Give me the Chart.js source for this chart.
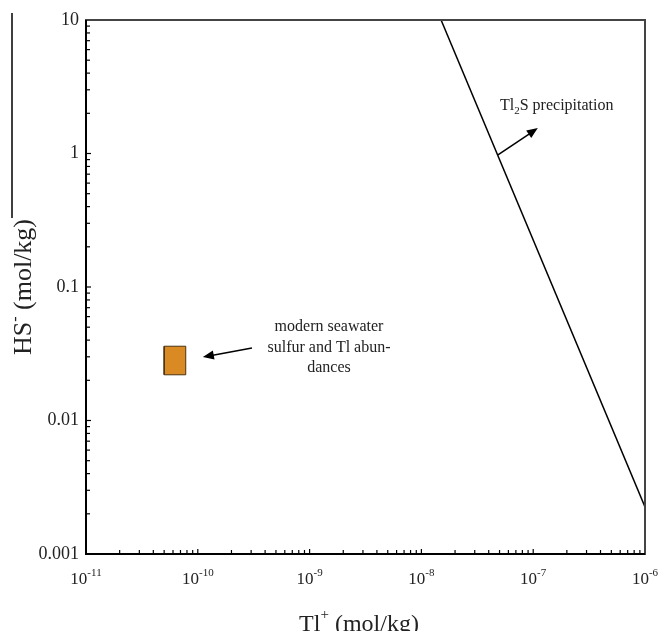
<!DOCTYPE html>
<html>
<head>
<meta charset="utf-8">
<script src="https://cdn.jsdelivr.net/npm/chart.js@4/dist/chart.umd.min.js"></script>
<style>
  body { margin: 0; background: #fff; }
  canvas { display: block; }
</style>
</head>
<body>
<canvas id="tlChart" width="658" height="631"></canvas>
<script>
// axis ticks
const xTickExponents = [-11, -10, -9, -8, -7, -6];
const yTickValues = [0.001, 0.01, 0.1, 1, 10];
const yTickLabels = ['0.001', '0.01', '0.1', '1', '10'];

// Tl2S saturation line (HS- = K / Tl+^2)
const precipTl = [1.5e-8, 1e-6];
const precipHS = [10, 0.00225];

// modern seawater box
const seawaterTl = [5e-11, 7.8e-11, 7.8e-11, 5e-11, 5e-11];
const seawaterHS = [0.022, 0.022, 0.036, 0.036, 0.022];

// annotation arrows [tail, head]
const seawaterArrowTl = [3.05e-10, 1.11e-10];
const seawaterArrowHS = [0.0349, 0.0299];
const precipArrowTl = [4.84e-8, 1.10e-7];
const precipArrowHS = [0.975, 1.55];

const FONT = "'Liberation Serif', 'Times New Roman', serif";

function pts(xs, ys) {
    return xs.map((x, i) => ({ x: x, y: ys[i] }));
}

function arrow(ctx, x0, y0, x1, y1) {
    const a = Math.atan2(y1 - y0, x1 - x0);
    const len = 11, half = 4.5;
    ctx.beginPath();
    ctx.moveTo(x0, y0);
    ctx.lineTo(x1 - Math.cos(a) * len * 0.8, y1 - Math.sin(a) * len * 0.8);
    ctx.lineWidth = 1.5;
    ctx.stroke();
    ctx.beginPath();
    ctx.moveTo(x1, y1);
    ctx.lineTo(x1 - Math.cos(a) * len - Math.sin(a) * half, y1 - Math.sin(a) * len + Math.cos(a) * half);
    ctx.lineTo(x1 - Math.cos(a) * len + Math.sin(a) * half, y1 - Math.sin(a) * len - Math.cos(a) * half);
    ctx.closePath();
    ctx.fill();
}

// frame, inward ticks, labels and notes
const decorations = {
    id: 'decorations',
    afterDraw(chart) {
        const ctx = chart.ctx;
        const xs = chart.scales.x, ys = chart.scales.y;
        const a = chart.chartArea;
        ctx.save();
        ctx.strokeStyle = '#000';
        ctx.fillStyle = '#000';

        // stray rule at far left
        ctx.lineWidth = 1.5;
        ctx.beginPath();
        ctx.moveTo(12, 13);
        ctx.lineTo(12, 218);
        ctx.stroke();

        // frame
        ctx.strokeStyle = '#444';
        ctx.lineWidth = 2;
        ctx.strokeRect(a.left, a.top, a.right - a.left, a.bottom - a.top);
        ctx.strokeStyle = '#000';
        ctx.beginPath();
        ctx.moveTo(a.left, a.top);
        ctx.lineTo(a.left, a.bottom);
        ctx.lineTo(a.right, a.bottom);
        ctx.stroke();

        // x ticks
        ctx.lineWidth = 1.2;
        for (let e = xTickExponents[0]; e < xTickExponents[xTickExponents.length - 1]; e++) {
            for (let m = 1; m <= 9; m++) {
                const px = xs.getPixelForValue(m * Math.pow(10, e));
                const l = m === 1 ? 5 : 4;
                ctx.beginPath();
                ctx.moveTo(px, a.bottom);
                ctx.lineTo(px, a.bottom - l);
                ctx.stroke();
            }
        }
        // y ticks
        for (let i = 0; i < yTickValues.length - 1; i++) {
            for (let m = 1; m <= 9; m++) {
                const py = ys.getPixelForValue(m * yTickValues[i]);
                const l = m === 1 ? 5 : 4;
                ctx.beginPath();
                ctx.moveTo(a.left, py);
                ctx.lineTo(a.left + l, py);
                ctx.stroke();
            }
        }

        // y tick labels
        ctx.fillStyle = '#222';
        ctx.font = '18px ' + FONT;
        ctx.textAlign = 'right';
        ctx.textBaseline = 'middle';
        yTickValues.forEach((v, i) => {
            ctx.fillText(yTickLabels[i], 79, ys.getPixelForValue(v));
        });

        // x tick labels 10^n
        ctx.textAlign = 'left';
        ctx.textBaseline = 'alphabetic';
        xTickExponents.forEach(e => {
            const px = xs.getPixelForValue(Math.pow(10, e));
            ctx.font = '17px ' + FONT;
            const w1 = ctx.measureText('10').width;
            ctx.font = '11px ' + FONT;
            const sup = '-' + Math.abs(e);
            const w2 = ctx.measureText(sup).width;
            const x0 = px - (w1 + w2) / 2;
            ctx.font = '17px ' + FONT;
            ctx.fillText('10', x0, 584);
            ctx.font = '11px ' + FONT;
            ctx.fillText(sup, x0 + w1, 576);
        });

        // x title
        ctx.font = '24px ' + FONT;
        const t1 = 'Tl', t2 = ' (mol/kg)';
        const wt1 = ctx.measureText(t1).width, wt2 = ctx.measureText(t2).width;
        ctx.font = '15px ' + FONT;
        const wp = ctx.measureText('+').width;
        let tx = 359 - (wt1 + wp + wt2) / 2;
        ctx.font = '24px ' + FONT;
        ctx.fillText(t1, tx, 631);
        ctx.font = '15px ' + FONT;
        ctx.fillText('+', tx + wt1, 619);
        ctx.font = '24px ' + FONT;
        ctx.fillText(t2, tx + wt1 + wp, 631);

        // y title (rotated)
        ctx.save();
        ctx.translate(31, 287);
        ctx.rotate(-Math.PI / 2);
        ctx.font = '26px ' + FONT;
        const h1 = 'HS', h2 = ' (mol/kg)';
        const wh1 = ctx.measureText(h1).width, wh2 = ctx.measureText(h2).width;
        ctx.font = '16px ' + FONT;
        const wm = ctx.measureText('-').width;
        let hx = -(wh1 + wm + wh2) / 2;
        ctx.font = '26px ' + FONT;
        ctx.fillText(h1, hx, 0);
        ctx.font = '16px ' + FONT;
        ctx.fillText('-', hx + wh1, -11);
        ctx.font = '26px ' + FONT;
        ctx.fillText(h2, hx + wh1 + wm, 0);
        ctx.restore();

        // arrows
        ctx.fillStyle = '#000';
        ctx.strokeStyle = '#000';
        arrow(ctx,
            xs.getPixelForValue(seawaterArrowTl[0]), ys.getPixelForValue(seawaterArrowHS[0]),
            xs.getPixelForValue(seawaterArrowTl[1]), ys.getPixelForValue(seawaterArrowHS[1]));
        arrow(ctx,
            xs.getPixelForValue(precipArrowTl[0]), ys.getPixelForValue(precipArrowHS[0]),
            xs.getPixelForValue(precipArrowTl[1]), ys.getPixelForValue(precipArrowHS[1]));

        // notes
        ctx.fillStyle = '#222';
        ctx.font = '16px ' + FONT;
        ctx.textAlign = 'left';
        let nx = 500;
        ctx.fillText('Tl', nx, 110);
        nx += ctx.measureText('Tl').width;
        ctx.font = '11px ' + FONT;
        ctx.fillText('2', nx, 114);
        nx += ctx.measureText('2').width;
        ctx.font = '16px ' + FONT;
        ctx.fillText('S precipitation', nx, 110);

        ctx.textAlign = 'center';
        ctx.fillText('modern seawater', 329, 331);
        ctx.fillText('sulfur and Tl abun-', 329, 352);
        ctx.fillText('dances', 329, 372);

        ctx.restore();
    }
};

new Chart(document.getElementById('tlChart'), {
    type: 'scatter',
    data: {
        datasets: [
            {
                label: 'modern seawater',
                data: pts(seawaterTl, seawaterHS),
                showLine: true,
                fill: 'shape',
                backgroundColor: '#D98A22',
                borderColor: '#4a3210',
                borderWidth: 1,
                pointRadius: 0,
                tension: 0
            },
            {
                label: 'Tl2S precipitation',
                data: pts(precipTl, precipHS),
                showLine: true,
                fill: false,
                borderColor: '#000',
                borderWidth: 1.5,
                pointRadius: 0,
                tension: 0
            }
        ]
    },
    options: {
        responsive: false,
        animation: false,
        devicePixelRatio: 1,
        layout: { padding: { left: 86, right: 13, top: 20, bottom: 77 } },
        plugins: {
            legend: { display: false },
            tooltip: { enabled: false }
        },
        scales: {
            x: {
                type: 'logarithmic',
                min: 1e-11,
                max: 1e-6,
                afterFit: s => { s.height = 0; },
                ticks: { display: false },
                grid: { display: false },
                border: { display: false }
            },
            y: {
                type: 'logarithmic',
                min: 0.001,
                max: 10,
                afterFit: s => { s.width = 0; },
                ticks: { display: false },
                grid: { display: false },
                border: { display: false }
            }
        }
    },
    plugins: [decorations]
});
</script>
</body>
</html>
